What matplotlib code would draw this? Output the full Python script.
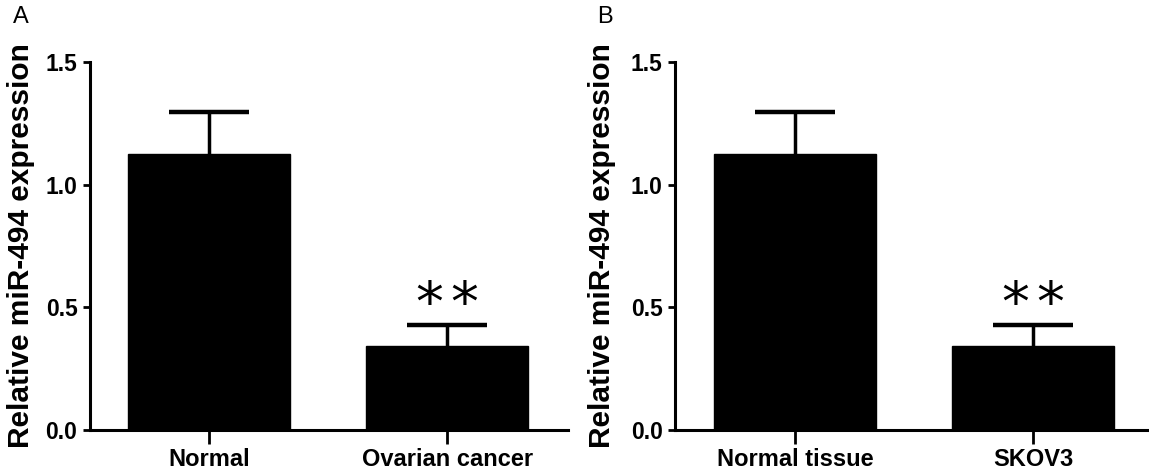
import matplotlib.pyplot as plt

plt.rcParams['font.family'] = ['Liberation Sans', 'DejaVu Sans']

# panel A
groups_a = ['Normal', 'Ovarian cancer']
means_a = [1.124, 0.342]
errs_a = [0.171, 0.086]

# panel B
groups_b = ['Normal tissue', 'SKOV3']
means_b = [1.124, 0.342]
errs_b = [0.171, 0.086]

yticks = [0.0, 0.5, 1.0, 1.5]
ylabel = 'Relative miR-494 expression'

fig = plt.figure(figsize=(11.49, 4.76), dpi=100)
ax_a = fig.add_axes([90 / 1149, 1 - 430 / 476, 478 / 1149, 368 / 476])
ax_b = fig.add_axes([675 / 1149, 1 - 430 / 476, 474 / 1149, 368 / 476])


def draw_panel(ax, groups, means, errs, xlim, letter, letter_x, label_x):
    x = list(range(len(groups)))
    ax.bar(x, means, width=0.677, color='black', edgecolor='black', zorder=2)
    eb = ax.errorbar(x, means, yerr=[[0] * len(errs), errs], fmt='none',
                     ecolor='black', elinewidth=2.5, capsize=29, capthick=3.2, zorder=1)
    # only the upper cap is wanted
    eb[1][0].set_visible(False)
    ax.set_xlim(*xlim)
    ax.set_ylim(0, 1.5)
    ax.set_yticks(yticks)
    ax.set_yticklabels([f'{t:.1f}' for t in yticks], fontsize=16.5, fontweight='bold')
    ax.set_xticks(x)
    ax.set_xticklabels(groups, fontsize=17, fontweight='bold')
    ax.spines['top'].set_visible(False)
    ax.spines['right'].set_visible(False)
    ax.spines['left'].set_linewidth(2.2)
    ax.spines['bottom'].set_linewidth(2.2)
    ax.tick_params(axis='y', length=5, width=2, pad=4)
    ax.tick_params(axis='x', length=10, width=2, pad=3)
    ax.set_ylabel(ylabel, fontsize=21.5, fontweight='bold')
    ax.yaxis.set_label_coords(label_x, 0.5)
    # significance stars above the second bar
    top = means[1] + errs[1]
    for dx in (-0.073, 0.073):
        ax.text(1 + dx, top + 0.078, '*', fontsize=40, family='DejaVu Sans',
                ha='center', va='center', color='black')
    fig.text(letter_x, 1 - 17 / 476, letter, fontsize=17, ha='left', va='center')


draw_panel(ax_a, groups_a, means_a, errs_a, (-0.5, 1.508), 'A', 13 / 1149, -0.115)
draw_panel(ax_b, groups_b, means_b, errs_b, (-0.504, 1.487), 'B', 597 / 1149, -0.125)

fig.savefig('out.png', dpi=100)
